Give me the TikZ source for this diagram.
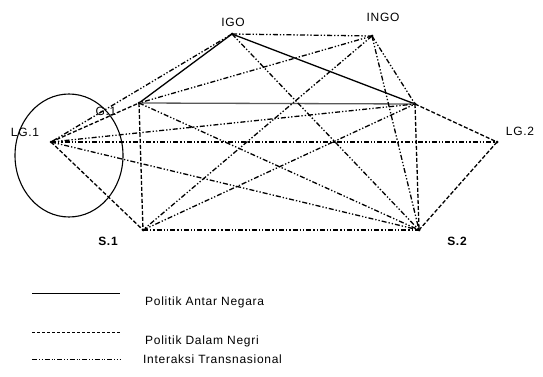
\documentclass[tikz,border=0pt]{standalone}
\usepackage{fontspec}
\setmainfont{Liberation Sans}
\newfontfamily\labfont[LetterSpace=6]{Liberation Sans}
\begin{document}
\begin{tikzpicture}[x=1pt,y=-1pt,
  ln/.style={line width=1.3pt},
  solidln/.style={ln},
  dashln/.style={ln,dash pattern=on 4pt off 2pt},
  ddln/.style={ln,dash pattern=on 5pt off 2pt on 1.3pt off 2pt on 1.3pt off 2pt},
  vtx/.style={circle,fill,inner sep=0pt,minimum size=3pt},
  lbl/.style={font=\labfont\fontsize{12}{14}\selectfont,inner sep=0pt},
  blbl/.style={font=\labfont\fontsize{12}{14}\selectfont\bfseries,inner sep=0pt},
  legln/.style={line width=0.9pt}]
\useasboundingbox (0,0) rectangle (543,377);

% actors
\node[vtx] (LG1)  at (51,142)  {};
\node[vtx] (G1)   at (139,103) {};
\node[vtx] (IGO)  at (232,34)  {};
\node[vtx] (INGO) at (372,36)  {};
\node[vtx] (G2)   at (415,104) {};
\node[vtx] (LG2)  at (497,142) {};
\node[vtx] (S1)   at (143,230) {};
\node[vtx] (S2)   at (419,230) {};

% labels
\node[lbl]  (tIGO)  at (233,22)  {IGO};
\node[lbl]  (tINGO) at (383,17)  {INGO};
\node[lbl]  (tLG1)  at (25,132)  {LG.1};
\node[lbl]  (tLG2)  at (520,131) {LG.2};
\node[lbl]  (tG1)   at (106,111) {G.1};
\node[blbl] (tS1)   at (108,241) {S.1};
\node[blbl] (tS2)   at (457,241) {S.2};

% state boundary around LG.1
\draw[line width=1.1pt] (69,155.5) ellipse [x radius=54, y radius=61.5];

% politik antar negara
\draw[solidln] (IGO.center) -- (G1.center);
\draw[solidln] (IGO.center) -- (G2.center);
\draw[solidln,black!65] (G1.center) -- (G2.center);

% politik dalam negri
\draw[dashln] (LG1.center) -- (G1.center);
\draw[dashln] (LG1.center) -- (S1.center);
\draw[dashln] (G1.center) -- (S1.center);
\draw[dashln] (G2.center) -- (S2.center);
\draw[dashln] (G2.center) -- (LG2.center);
\draw[dashln] (LG2.center) -- (S2.center);

% interaksi transnasional
\draw[ddln] (IGO.center) -- (INGO.center);
\draw[ddln] (IGO.center) -- (LG1.center);
\draw[ddln] (IGO.center) -- (S2.center);
\draw[ddln] (INGO.center) -- (G1.center);
\draw[ddln] (INGO.center) -- (S1.center);
\draw[ddln] (INGO.center) -- (G2.center);
\draw[ddln] (INGO.center) -- (S2.center);
\draw[ddln] (LG1.center) -- (G2.center);
\draw[ddln] (LG1.center) -- (LG2.center);
\draw[ddln] (LG1.center) -- (S2.center);
\draw[ddln] (G1.center) -- (S2.center);
\draw[ddln] (S1.center) -- (G2.center);
\draw[ddln] (S1.center) -- (S2.center);

% legend
\coordinate (la1) at (32,293);  \coordinate (lb1) at (120,293);
\coordinate (la2) at (32,332);  \coordinate (lb2) at (120,332);
\coordinate (la3) at (32,359);  \coordinate (lb3) at (120,359);
\draw[legln] (la1) -- (lb1);
\draw[legln,dash pattern=on 3pt off 2pt] (la2) -- (lb2);
\draw[legln,dash pattern=on 5pt off 2pt on 1pt off 1.5pt on 1pt off 2pt] (la3) -- (lb3);
\node[lbl,anchor=west] (k1) at (145,302) {Politik Antar Negara};
\node[lbl,anchor=west] (k2) at (145,341) {Politik Dalam Negri};
\node[lbl,anchor=west] (k3) at (143,359) {Interaksi Transnasional};
\end{tikzpicture}
\end{document}
